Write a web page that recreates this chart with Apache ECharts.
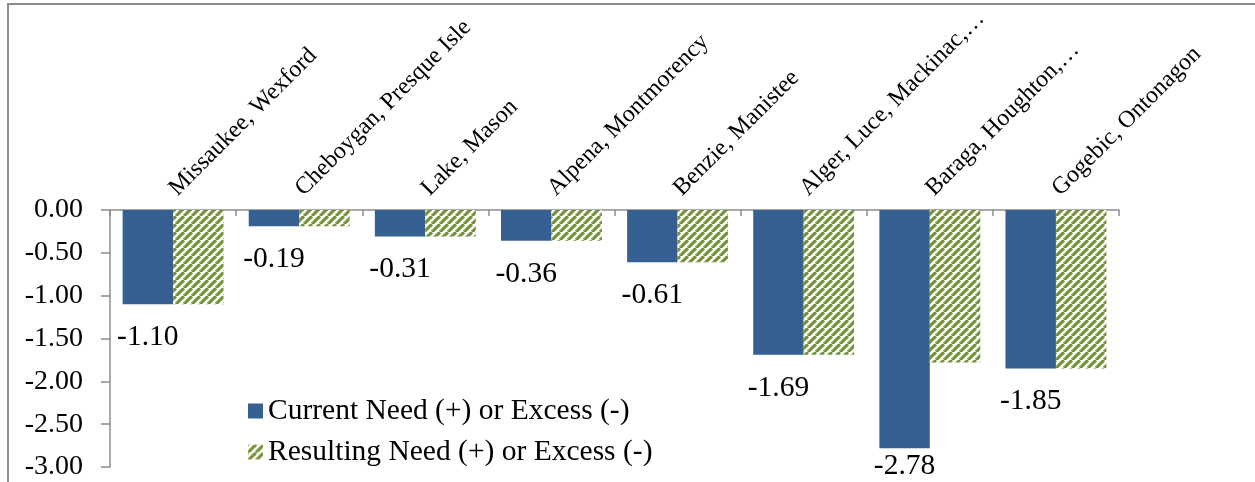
<!DOCTYPE html>
<html>
<head>
<meta charset="utf-8">
<style>
  html, body { margin: 0; padding: 0; background: #ffffff; }
  #chart { width: 1255px; height: 482px; }
</style>
<script src="https://cdn.jsdelivr.net/npm/echarts@6/dist/echarts.min.js"></script>
</head>
<body>
<div id="chart"></div>
<script>
// Market areas along the category axis
const areas = [
  'Missaukee, Wexford',
  'Cheboygan, Presque Isle',
  'Lake, Mason',
  'Alpena, Montmorency',
  'Benzie, Manistee',
  'Alger, Luce, Mackinac,\u2026',
  'Baraga, Houghton,\u2026',
  'Gogebic, Ontonagon'
];
// Need (+) or excess (-) per area
const currentNeed   = [-1.10, -0.19, -0.31, -0.36, -0.61, -1.69, -2.78, -1.85];
const resultingNeed = [-1.10, -0.19, -0.31, -0.36, -0.61, -1.69, -1.78, -1.85];
// Value axis ticks
const yTicks = [0, -0.5, -1, -1.5, -2, -2.5, -3];

const FONT = '"Liberation Serif", "Times New Roman", serif';
const BLUE = '#376092';
const GREEN = '#77933c';

// Upward diagonal hatch tile for the second series
function hatchTile() {
  const c = document.createElement('canvas');
  c.width = 8; c.height = 8;
  const ctx = c.getContext('2d');
  ctx.fillStyle = '#ffffff';
  ctx.fillRect(0, 0, 8, 8);
  ctx.strokeStyle = GREEN;
  ctx.lineWidth = 3.2;
  for (const k of [-8, 0, 8]) {
    ctx.beginPath();
    ctx.moveTo(k, 8);
    ctx.lineTo(k + 8, 0);
    ctx.stroke();
  }
  return c;
}

const chart = echarts.init(document.getElementById('chart'), null, { renderer: 'canvas' });

const currentData = currentNeed.map(function (v) {
  // the deepest bar keeps its label inside the frame
  if (v === Math.min.apply(null, currentNeed)) {
    return { value: v, label: { distance: 3 } };
  }
  return v;
});

chart.setOption({
  animation: false,
  backgroundColor: '#ffffff',
  textStyle: { fontFamily: FONT },
  graphic: [{
    type: 'rect',
    shape: { x: 8, y: 4, width: 1400, height: 700 },
    style: { fill: 'none', stroke: '#8c8c8c', lineWidth: 2 },
    silent: true,
    z: -10
  }],
  grid: { left: 110, right: 136, top: 210, bottom: 15, containLabel: false },
  legend: {
    orient: 'vertical',
    left: 243,
    top: 391,
    itemWidth: 15,
    itemHeight: 15,
    itemGap: 11,
    icon: 'rect',
    textStyle: { fontFamily: FONT, fontSize: 29.5, color: '#000000' },
    data: ['Current Need (+) or Excess (-)', 'Resulting Need (+) or Excess (-)']
  },
  xAxis: {
    type: 'category',
    position: 'top',
    data: areas,
    axisLine: { show: true, lineStyle: { color: '#8c8c8c', width: 1.5 } },
    axisTick: { show: true, inside: true, length: 6, lineStyle: { color: '#8c8c8c', width: 1.5 } },
    axisLabel: {
      interval: 0,
      rotate: 45,
      margin: 18,
      fontFamily: FONT,
      fontSize: 24,
      color: '#000000'
    },
    splitLine: { show: false }
  },
  yAxis: {
    type: 'value',
    min: -3,
    max: 0,
    interval: 0.5,
    axisLine: { show: true, lineStyle: { color: '#8c8c8c', width: 1.5 } },
    axisTick: { show: true, inside: false, length: 9, lineStyle: { color: '#8c8c8c', width: 1.5 } },
    axisLabel: {
      margin: 27,
      fontFamily: FONT,
      fontSize: 28,
      color: '#000000',
      formatter: function (v) { return v.toFixed(2); }
    },
    splitLine: { show: false }
  },
  series: [
    {
      name: 'Current Need (+) or Excess (-)',
      type: 'bar',
      data: currentData,
      barGap: '0%',
      barCategoryGap: '20%',
      itemStyle: { color: BLUE },
      label: {
        show: true,
        position: 'bottom',
        distance: 18,
        fontFamily: FONT,
        fontSize: 29.5,
        color: '#000000',
        formatter: function (p) { return Number(p.value).toFixed(2); }
      }
    },
    {
      name: 'Resulting Need (+) or Excess (-)',
      type: 'bar',
      data: resultingNeed,
      barGap: '0%',
      barCategoryGap: '20%',
      itemStyle: { color: { image: hatchTile(), repeat: 'repeat' } }
    }
  ]
});
</script>
</body>
</html>
